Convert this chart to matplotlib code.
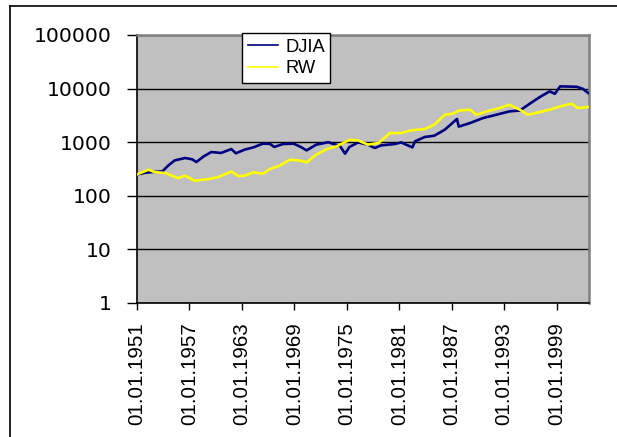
import matplotlib
matplotlib.use("Agg")
import matplotlib.pyplot as plt
from matplotlib.lines import Line2D
import matplotlib.transforms as mtransforms

# ---- data ----
djia_years = [1951.0, 1952.0, 1953.0, 1953.9, 1954.6, 1955.3, 1956.5, 1957.3, 1957.8,
              1958.6, 1959.5, 1960.6, 1961.8, 1962.3, 1963.3, 1964.3, 1965.4, 1966.2,
              1966.7, 1967.7, 1968.9, 1969.7, 1970.4, 1971.5, 1972.9, 1973.4, 1974.2,
              1974.8, 1975.3, 1976.3, 1977.4, 1978.2, 1978.9, 1980.5, 1981.2, 1982.5,
              1982.8, 1983.9, 1985.0, 1986.2, 1987.1, 1987.6, 1987.8, 1989.1, 1990.6,
              1992.1, 1993.6, 1994.8, 1995.9, 1997.1, 1998.2, 1998.8, 1999.4, 2000.5,
              2001.3, 2002.0, 2002.6]
djia_values = [250, 270, 280, 285, 370, 457, 507, 480, 427,
               540, 656, 630, 745, 620, 725, 800, 940, 930,
               815, 925, 940, 820, 703, 900, 1000, 930, 860,
               610, 815, 990, 900, 780, 870, 925, 990, 800,
               1035, 1250, 1320, 1710, 2300, 2710, 1950, 2280, 2830,
               3250, 3760, 3900, 5200, 7000, 8880, 8000, 11000, 10900,
               10800, 9900, 8300]

rw_years = [1951.0, 1952.3, 1953.0, 1954.2, 1955.7, 1956.5, 1957.6, 1959.2, 1960.3,
            1961.8, 1962.6, 1963.3, 1964.3, 1965.4, 1966.2, 1967.3, 1968.5, 1969.6,
            1970.4, 1971.5, 1972.7, 1973.8, 1974.6, 1975.3, 1976.3, 1977.4, 1978.6,
            1979.3, 1979.9, 1981.2, 1982.3, 1983.9, 1985.0, 1986.2, 1987.1, 1987.9,
            1989.1, 1989.8, 1991.0, 1992.5, 1993.6, 1994.8, 1995.7, 1997.1, 1998.2,
            1999.4, 2000.7, 2001.4, 2002.6]
rw_values = [250, 307, 278, 266, 214, 237, 191, 205, 224,
             285, 232, 237, 274, 258, 316, 364, 471, 457,
             420, 585, 745, 835, 965, 1110, 1080, 900, 965,
             1200, 1480, 1480, 1660, 1760, 2120, 3250, 3400, 3920,
             4040, 3250, 3760, 4350, 5000, 4040, 3250, 3660, 4040,
             4660, 5230, 4350, 4530]

tick_years = [1951, 1957, 1963, 1969, 1975, 1981, 1987, 1993, 1999]
tick_labels = ["01.01.1951", "01.01.1957", "01.01.1963", "01.01.1969", "01.01.1975",
               "01.01.1981", "01.01.1987", "01.01.1993", "01.01.1999"]
y_ticks = [1, 10, 100, 1000, 10000, 100000]
y_labels = ["1", "10", "100", "1000", "10000", "100000"]
series_names = ["DJIA", "RW"]

# ---- figure ----
W, H = 617, 437
fig = plt.figure(figsize=(W / 100, H / 100), dpi=100)
fig.patch.set_facecolor("white")
font = "Liberation Sans"

ax = fig.add_axes([137 / W, 1 - 303 / H, (589 - 137) / W, (303 - 35) / H])
ax.set_facecolor("#C0C0C0")

ax.plot(djia_years, djia_values, color="#000080", lw=1.9, label=series_names[0], zorder=3)
ax.plot(rw_years, rw_values, color="#FFFF00", lw=1.9, label=series_names[1], zorder=3)

ax.set_yscale("log")
ax.set_ylim(1, 100000)
ax.set_xlim(1951, 2002.7)
ax.set_yticks(y_ticks)
ax.set_yticklabels(y_labels, fontsize=14.6, family="DejaVu Sans")
ax.yaxis.set_minor_locator(matplotlib.ticker.NullLocator())
ax.set_xticks(tick_years)
ax.set_xticklabels(tick_labels, rotation=90, fontsize=14.8, family=font, va="top", ha="center")
offset = mtransforms.ScaledTranslation(-6 / 100, 0, fig.dpi_scale_trans)
for lab in ax.get_xticklabels():
    lab.set_transform(lab.get_transform() + offset)

ax.tick_params(axis="y", direction="out", length=7, width=1, pad=11, colors="black")
ax.tick_params(axis="x", direction="out", length=5, width=1, pad=9, colors="black")
ax.grid(axis="y", which="major", color="black", lw=1, zorder=1)
ax.set_axisbelow(True)

for s in ["left", "bottom"]:
    ax.spines[s].set_color("black")
    ax.spines[s].set_linewidth(1.2)
for s in ["top", "right"]:
    ax.spines[s].set_color("#808080")
    ax.spines[s].set_linewidth(1.8)

leg = fig.legend(loc="upper left", bbox_to_anchor=(242 / W, 1 - 33 / H),
                 bbox_transform=fig.transFigure, borderaxespad=0,
                 prop={"family": font, "size": 13.2}, frameon=True, fancybox=False,
                 edgecolor="black", facecolor="white", framealpha=1,
                 handlelength=1.65, handletextpad=0.4, borderpad=0.3, labelspacing=0.25)
leg.get_frame().set_linewidth(1.0)
for h in leg.get_lines():
    h.set_linewidth(1.2)

# outer chart border (left and top visible)
fig.add_artist(Line2D([9.5 / W, 9.5 / W], [0, 1 - 5.5 / H], transform=fig.transFigure,
                      color="black", lw=1.2))
fig.add_artist(Line2D([9.5 / W, 1], [1 - 5.5 / H, 1 - 5.5 / H], transform=fig.transFigure,
                      color="black", lw=1.2))

fig.savefig("out.png", dpi=100)
